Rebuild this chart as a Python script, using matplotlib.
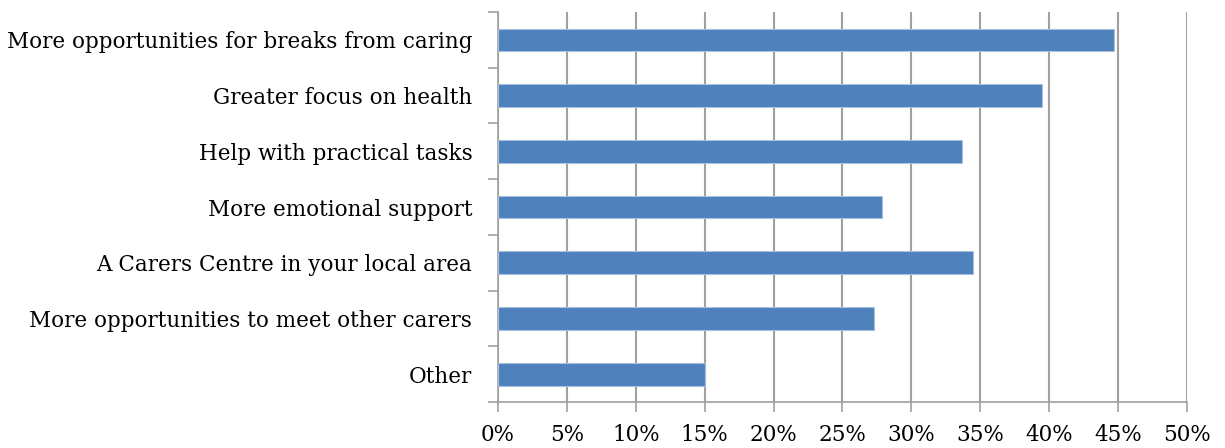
import matplotlib.pyplot as plt
from matplotlib.ticker import MultipleLocator, FuncFormatter

categories = [
    "More opportunities for breaks from caring",
    "Greater focus on health",
    "Help with practical tasks",
    "More emotional support",
    "A Carers Centre in your local area",
    "More opportunities to meet other carers",
    "Other",
]
values = [44.7, 39.5, 33.7, 27.9, 34.5, 27.3, 15.0]

plt.rcParams['font.family'] = ['DejaVu Serif']

fig = plt.figure(figsize=(12.25, 4.48), dpi=100)
ax = fig.add_axes([0.4065, 0.1027, 0.5625, 0.8703])

pos = list(range(len(categories)))
ax.barh(pos, values, height=0.41, color='#4F81BD', edgecolor='#A7C0DE', linewidth=0.8, zorder=3)

ax.set_ylim(len(categories) - 0.5, -0.5)
ax.set_xlim(0, 50)
ax.xaxis.set_major_locator(MultipleLocator(5))
ax.xaxis.set_major_formatter(FuncFormatter(lambda v, p: "%d%%" % v))
ax.grid(axis='x', color='#A0A0A0', linewidth=1.5, zorder=0)

# category boundary ticks on the y axis
ax.set_yticks([i - 0.5 for i in range(len(categories) + 1)])
ax.set_yticklabels([])
ax.set_yticks(pos, minor=True)
ax.set_yticklabels(categories, minor=True, fontsize=15.5)
ax.tick_params(axis='y', which='minor', length=0, pad=18.5)
ax.tick_params(axis='y', which='major', length=7, color='#A0A0A0', width=1.2)
ax.tick_params(axis='x', length=7, color='#A0A0A0', width=1.2, labelsize=15.5, pad=9)

for s in ['top', 'right']:
    ax.spines[s].set_visible(False)
for s in ['left', 'bottom']:
    ax.spines[s].set_color('#A0A0A0')
    ax.spines[s].set_linewidth(1.2)

plt.savefig("out.png", dpi=100)
